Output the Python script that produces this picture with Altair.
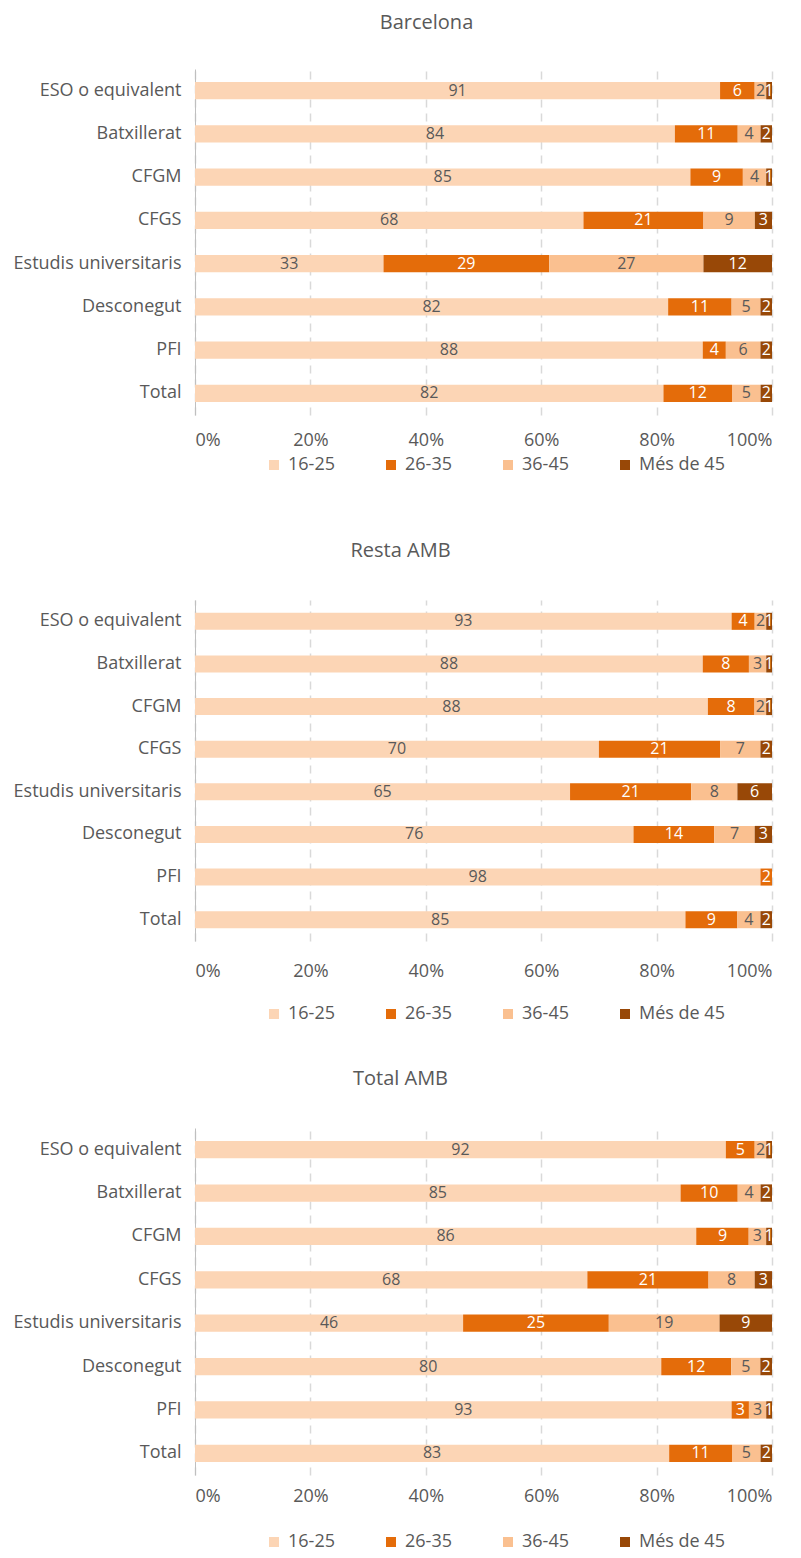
import altair as alt
import pandas as pd

categories = ["ESO o equivalent", "Batxillerat", "CFGM", "CFGS",
              "Estudis universitaris", "Desconegut", "PFI", "Total"]
ages = ["16-25", "26-35", "36-45", "Més de 45"]
panels = ["Barcelona", "Resta AMB", "Total AMB"]

# Barcelona
bcn_16_25 = [91, 84, 85, 68, 33, 82, 88, 82]
bcn_26_35 = [6, 11, 9, 21, 29, 11, 4, 12]
bcn_36_45 = [2, 4, 4, 9, 27, 5, 6, 5]
bcn_45 = [1, 2, 1, 3, 12, 2, 2, 2]

# Resta AMB
resta_16_25 = [93, 88, 88, 70, 65, 76, 98, 85]
resta_26_35 = [4, 8, 8, 21, 21, 14, 2, 9]
resta_36_45 = [2, 3, 2, 7, 8, 7, 0, 4]
resta_45 = [1, 1, 1, 2, 6, 3, 0, 2]

# Total AMB
tot_16_25 = [92, 85, 86, 68, 46, 80, 93, 83]
tot_26_35 = [5, 10, 9, 21, 25, 12, 3, 11]
tot_36_45 = [2, 4, 3, 8, 19, 5, 3, 5]
tot_45 = [1, 2, 1, 3, 9, 2, 1, 2]

series = {
    "Barcelona": [bcn_16_25, bcn_26_35, bcn_36_45, bcn_45],
    "Resta AMB": [resta_16_25, resta_26_35, resta_36_45, resta_45],
    "Total AMB": [tot_16_25, tot_26_35, tot_36_45, tot_45],
}

colors = ["#FCD5B5", "#E46C0A", "#FAC090", "#984807"]
FONT = "Open Sans"
GREY = "#595959"

# per-panel layout settings
layout = {
    "Barcelona": dict(height=346, title_offset=36, label_pad=16, legend_y=387, title_dx=-57),
    "Resta AMB": dict(height=341, title_offset=39, label_pad=21, legend_y=405, title_dx=-83),
    "Total AMB": dict(height=347, title_offset=39, label_pad=12, legend_y=405, title_dx=-83),
}

rows = []
for p in panels:
    for ai, a in enumerate(ages):
        for ci, c in enumerate(categories):
            rows.append({"panel": p, "cat": c, "age": a, "ord": ai,
                         "value": series[p][ai][ci]})
df = pd.DataFrame(rows)


def make_panel(name):
    L = layout[name]
    d = df[df["panel"] == name]
    base = alt.Chart(d)
    y = alt.Y("cat:N", sort=categories, title=None,
              scale=alt.Scale(paddingInner=0.6, paddingOuter=0.3),
              axis=alt.Axis(domainColor="#BFBFBF", domainWidth=1, ticks=False,
                            labelPadding=14, labelFontSize=18, labelColor=GREY,
                            labelFont=FONT, grid=False))
    bars = base.mark_bar().encode(
        y=y,
        x=alt.X("value:Q", stack="normalize", title=None,
                scale=alt.Scale(domain=[0, 1]),
                axis=alt.Axis(format="%", values=[0, 0.2, 0.4, 0.6, 0.8, 1],
                              domain=False, ticks=False,
                              labelPadding=L["label_pad"],
                              labelFontSize=18, labelColor=GREY, labelFont=FONT,
                              grid=True, gridColor="#D9D9D9", gridWidth=1.5,
                              gridDash=[8, 6])),
        color=alt.Color("age:N", scale=alt.Scale(domain=ages, range=colors),
                        legend=alt.Legend(orient="none", direction="horizontal",
                                          legendX=70, legendY=L["legend_y"],
                                          title=None, symbolType="square",
                                          symbolSize=100, symbolStrokeWidth=0,
                                          labelFontSize=18, labelColor=GREY,
                                          labelFont=FONT, gridAlign="all",
                                          labelOffset=5, columnPadding=8)),
        order=alt.Order("ord:Q"),
    )
    text = base.transform_filter("datum.value > 0").transform_joinaggregate(
        total="sum(value)", groupby=["cat"]
    ).transform_window(
        cum="sum(value)", groupby=["cat"], sort=[alt.SortField("ord")],
        frame=[None, 0]
    ).transform_calculate(
        mid="(datum.cum - datum.value/2) / datum.total"
    ).mark_text(fontSize=16, font=FONT, baseline="middle").encode(
        y=y,
        x=alt.X("mid:Q", scale=alt.Scale(domain=[0, 1])),
        text="value:Q",
        color=alt.condition("datum.age == '26-35' || datum.age == 'Més de 45'",
                            alt.value("white"), alt.value(GREY)),
    )
    return alt.layer(bars, text).properties(
        width=577, height=L["height"],
        title=alt.TitleParams(name, fontSize=20, font=FONT, fontWeight="normal",
                              color=GREY, offset=L["title_offset"],
                              dx=L["title_dx"]),
    )


p1, p2, p3 = [make_panel(p) for p in panels]
top = alt.vconcat(p1, p2, spacing=67).resolve_legend(color="independent")
chart = alt.vconcat(top, p3, spacing=46).resolve_legend(
    color="independent"
).configure_view(stroke=None)

chart.save("out.html", embed_options={"renderer": "svg", "actions": False})
